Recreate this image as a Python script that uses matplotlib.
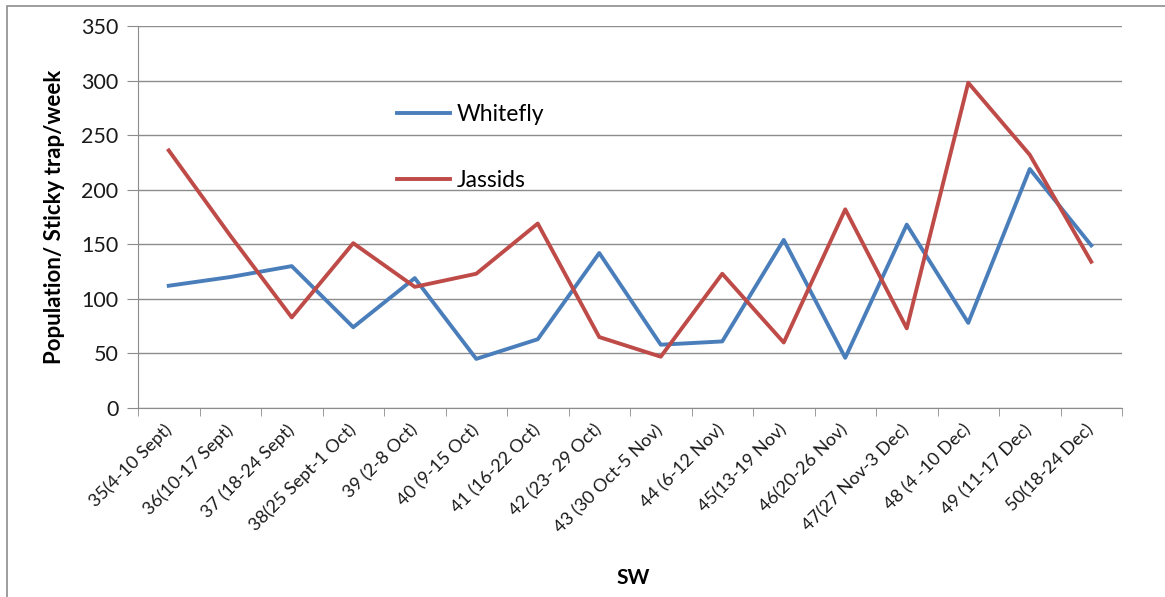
import matplotlib.pyplot as plt
from matplotlib.patches import Rectangle
import numpy as np

weeks = ['35(4-10 Sept)', '36(10-17 Sept)', '37 (18-24 Sept)', '38(25 Sept-1 Oct)',
         '39 (2-8 Oct)', '40 (9-15 Oct)', '41 (16-22 Oct)', '42 (23- 29 Oct)',
         '43 (30 Oct-5 Nov)', '44 (6-12 Nov)', '45(13-19 Nov)', '46(20-26 Nov)',
         '47(27 Nov-3 Dec)', '48 (4 -10 Dec)', '49 (11-17 Dec)', '50(18-24 Dec)']

whitefly = [112, 120, 130, 74, 119, 45, 63, 142, 58, 61, 154, 46, 168, 78, 219, 149]
jassids = [236, 158, 83, 151, 111, 123, 169, 65, 47, 123, 60, 182, 73, 298, 232, 134]

plt.rcParams['font.family'] = ['Lato', 'DejaVu Sans']

fig = plt.figure(figsize=(11.65, 5.97), dpi=100)
# chart frame
fig.patches.append(Rectangle((7 / 1165, -0.05), 1.2, (597 - 6) / 597 + 0.05,
                             transform=fig.transFigure, fill=False,
                             edgecolor='#8c8c8c', linewidth=1.2))

ax = fig.add_axes([138 / 1165, (597 - 408) / 597, (1122 - 138) / 1165, (408 - 26) / 597])

x = np.arange(len(weeks))
ax.plot(x, whitefly, color='#4A7EBB', linewidth=2.8, label='Whitefly')
ax.plot(x, jassids, color='#BE4B48', linewidth=2.8, label='Jassids')

ax.set_xlim(-0.5, len(weeks) - 0.5)
ax.set_ylim(0, 350)
ax.set_yticks(range(0, 351, 50))
ax.grid(axis='y', color='#8c8c8c', linewidth=1)
ax.set_axisbelow(True)

ax.set_xticks(x)
ax.set_xticklabels(weeks, rotation=45, ha='right', va='center', rotation_mode='anchor',
                   fontsize=13, color='#1a1a1a')
ax.set_xticks(np.arange(-0.5, len(weeks)), minor=True)
ax.tick_params(axis='x', which='major', length=0, pad=14)
ax.tick_params(axis='x', which='minor', length=6, color='#8c8c8c')
ax.tick_params(axis='y', length=8, color='#8c8c8c', labelsize=15.5, pad=6, labelcolor='#1a1a1a')

for side in ['top', 'right']:
    ax.spines[side].set_visible(False)
ax.spines['left'].set_color('#8c8c8c')
ax.spines['bottom'].set_color('#8c8c8c')

ax.set_ylabel('Population/ Sticky trap/week', fontsize=16, fontweight='bold', labelpad=12)
fig.text(633 / 1165, 1 - 578 / 597, 'SW', fontsize=15, fontweight='bold', ha='center', va='center')

ax.legend(loc='center left', bbox_to_anchor=(0.263, 0.682), frameon=False, fontsize=16.5,
          handlelength=2.3, handletextpad=0.3, labelspacing=2.0,
          borderpad=0, borderaxespad=0)

plt.savefig('out.png', dpi=100)
